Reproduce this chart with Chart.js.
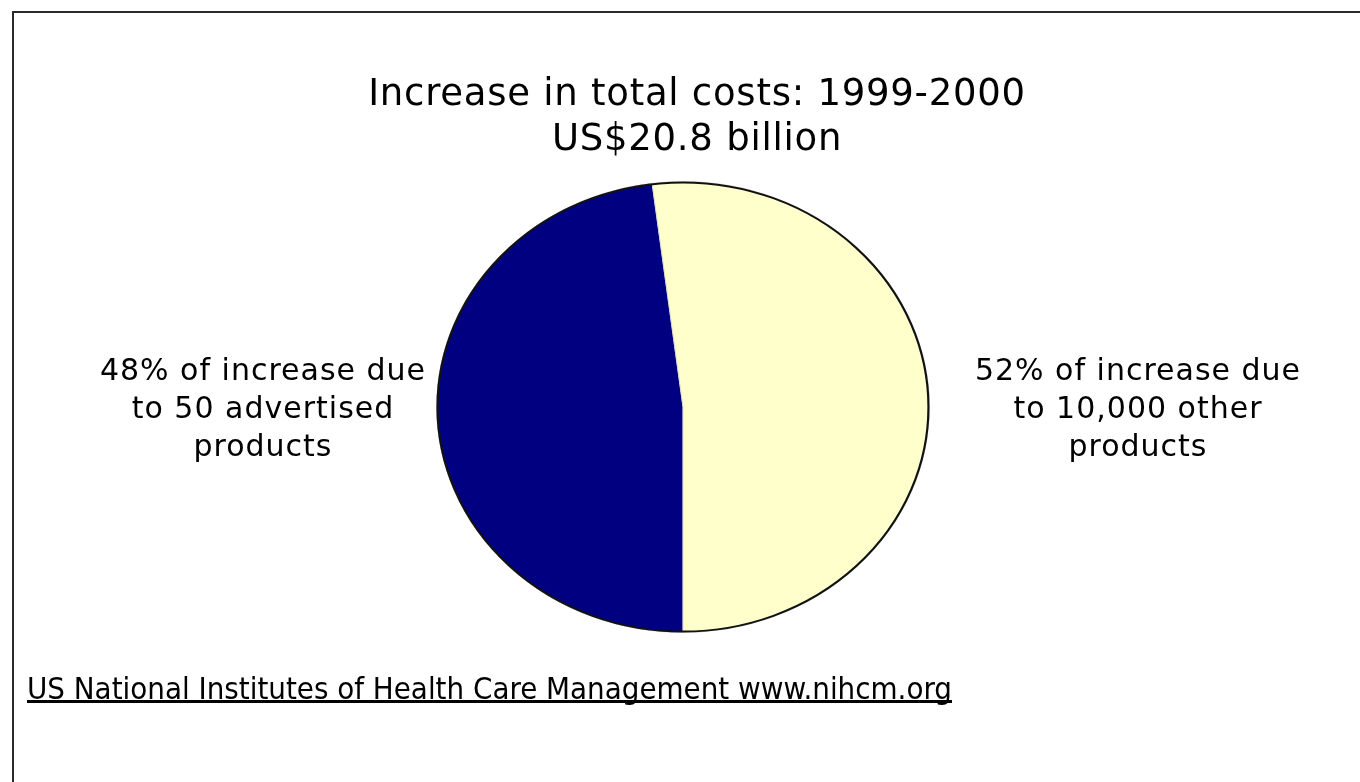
<!DOCTYPE html>
<html>
<head>
<meta charset="utf-8">
<script src="https://cdn.jsdelivr.net/npm/chart.js@4"></script>
<style>
  html, body { margin: 0; padding: 0; background: #fff; overflow: hidden; }
  #wrap { position: relative; width: 1360px; height: 782px; }
  #frame { position: absolute; left: 12px; top: 11px; width: 1400px; height: 820px; border: 2px solid #2a2a2a; box-sizing: border-box; }
  canvas { position: absolute; left: 0; top: 0; }
  #title { position: absolute; left: 297px; top: 70px; width: 800px; text-align: center; font: 37px "DejaVu Sans", Verdana, sans-serif; letter-spacing: 0.75px; line-height: 45px; color: #000; }
  .side { position: absolute; top: 351px; width: 380px; text-align: center; font: 30px "DejaVu Sans", Verdana, sans-serif; letter-spacing: 1px; line-height: 38px; color: #000; }
  #footer { position: absolute; left: 27px; top: 670px; font: 31px "Liberation Sans Narrow", "DejaVu Sans Condensed", "Liberation Sans", sans-serif; color: #000; text-decoration: underline; text-decoration-skip-ink: none; text-underline-offset: 1px; white-space: nowrap; transform-origin: 0 0; }
</style>
</head>
<body>
<div id="wrap">
  <div id="frame"></div>
  <canvas id="myChart" width="1360" height="782"></canvas>
  <div id="title"></div>
  <div class="side" id="leftLabel"></div>
  <div class="side" id="rightLabel"></div>
  <div id="footer"></div>
</div>
<script>
const categories = ['50 advertised products', '10,000 other products'];
const shares = [48, 52];
const colors = ['#000080', '#FFFFCC'];
const titleLines = ['Increase in total costs: 1999-2000', 'US$20.8 billion'];
const leftText = ['48% of increase due', 'to 50 advertised', 'products'];
const rightText = ['52% of increase due', 'to 10,000 other', 'products'];
const footerText = 'US National Institutes of Health Care Management www.nihcm.org';

// the original pie is a bit wider than tall
const stretchX = 247 / 226;

const ellipsePie = {
    id: 'ellipsePie',
    beforeDatasetsDraw(chart) {
        const arc = chart.getDatasetMeta(0).data[0];
        const c = chart.ctx;
        c.save();
        c.translate(arc.x, arc.y);
        c.scale(stretchX, 1);
        c.translate(-arc.x, -arc.y);
    },
    afterDatasetsDraw(chart) {
        const arc = chart.getDatasetMeta(0).data[0];
        const c = chart.ctx;
        // dark outer rim, slices keep their thin light separators
        c.beginPath();
        c.arc(arc.x, arc.y, arc.outerRadius - 1, 0, Math.PI * 2);
        c.lineWidth = 2;
        c.strokeStyle = '#111';
        c.stroke();
        c.restore();
    }
};

const ctx = document.getElementById('myChart');

new Chart(ctx, {
    type: 'pie',
    data: {
        labels: categories,
        datasets: [{
            data: shares,
            backgroundColor: colors,
            borderColor: '#d8d8d8',
            borderWidth: 0.8,
            hoverOffset: 0,
        }]
    },
    options: {
        responsive: false,
        animation: false,
        rotation: 180,
        layout: {
            padding: { top: 181, bottom: 149, left: 303, right: 297 }
        },
        plugins: {
            legend: { display: false },
            tooltip: { enabled: false },
            title: { display: false }
        }
    },
    plugins: [ellipsePie]
});

document.getElementById('title').innerHTML = titleLines.join('<br>');
document.getElementById('leftLabel').innerHTML = leftText.join('<br>');
document.getElementById('rightLabel').innerHTML = rightText.join('<br>');
document.getElementById('leftLabel').style.left = (263 - 190) + 'px';
document.getElementById('rightLabel').style.left = (1138 - 190) + 'px';

const foot = document.getElementById('footer');
foot.textContent = footerText;
foot.style.transform = 'scaleX(' + (925 / foot.offsetWidth) + ')';
</script>
</body>
</html>
